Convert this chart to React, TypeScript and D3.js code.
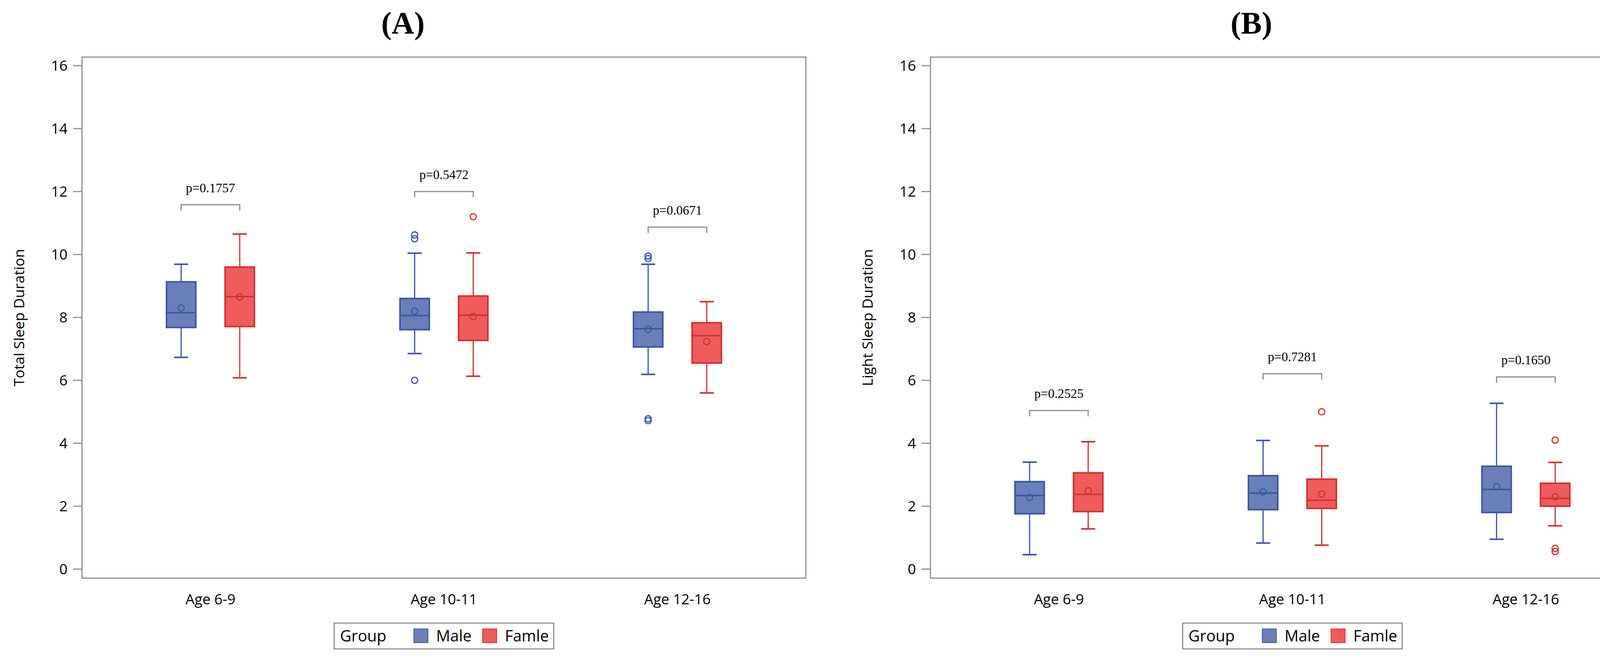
import * as d3 from "d3";
import React from "react";

// 数据
const categories = ["Age 6-9", "Age 10-11", "Age 12-16"];
const groups = ["Male", "Famle"];
const yTicks = [0, 2, 4, 6, 8, 10, 12, 14, 16];

interface BoxStat {
  min: number;
  q1: number;
  median: number;
  q3: number;
  max: number;
  mean: number;
  outliers: number[];
}

const totalMale: BoxStat[] = [
  { min: 6.73, q1: 7.68, median: 8.15, q3: 9.13, max: 9.69, mean: 8.3, outliers: [] },
  { min: 6.85, q1: 7.61, median: 8.06, q3: 8.6, max: 10.04, mean: 8.2, outliers: [10.62, 10.5, 6.0] },
  { min: 6.19, q1: 7.06, median: 7.64, q3: 8.17, max: 9.69, mean: 7.62, outliers: [9.95, 9.87, 4.78, 4.72] },
];
const totalFemale: BoxStat[] = [
  { min: 6.08, q1: 7.71, median: 8.66, q3: 9.6, max: 10.65, mean: 8.65, outliers: [] },
  { min: 6.13, q1: 7.27, median: 8.07, q3: 8.68, max: 10.05, mean: 8.03, outliers: [11.2] },
  { min: 5.6, q1: 6.55, median: 7.42, q3: 7.83, max: 8.5, mean: 7.23, outliers: [] },
];
const totalP = ["p=0.1757", "p=0.5472", "p=0.0671"];
const totalPLevel = [11.58, 12.0, 10.87];

const lightMale: BoxStat[] = [
  { min: 0.46, q1: 1.76, median: 2.34, q3: 2.78, max: 3.4, mean: 2.28, outliers: [] },
  { min: 0.83, q1: 1.89, median: 2.42, q3: 2.97, max: 4.09, mean: 2.46, outliers: [] },
  { min: 0.95, q1: 1.8, median: 2.53, q3: 3.27, max: 5.27, mean: 2.62, outliers: [] },
];
const lightFemale: BoxStat[] = [
  { min: 1.28, q1: 1.83, median: 2.38, q3: 3.06, max: 4.05, mean: 2.49, outliers: [] },
  { min: 0.76, q1: 1.93, median: 2.19, q3: 2.86, max: 3.92, mean: 2.39, outliers: [5.0] },
  { min: 1.38, q1: 2.0, median: 2.25, q3: 2.73, max: 3.39, mean: 2.3, outliers: [4.1, 0.66, 0.56] },
];
const lightP = ["p=0.2525", "p=0.7281", "p=0.1650"];
const lightPLevel = [5.04, 6.21, 6.11];

const COLORS = {
  fill: ["#6a7fb9", "#ef5c5c"],
  stroke: ["#3b55a0", "#d0302f"],
};
const FRAME = "#8e8e8e";
const SANS = "'Open Sans', sans-serif";
const SERIF = "'Liberation Serif', 'Times New Roman', serif";

interface PanelProps {
  title: string;
  yLabel: string;
  left: number;
  male: BoxStat[];
  female: BoxStat[];
  pLabels: string[];
  pLevels: number[];
}

const PLOT_W = 1853;
const TOP = 146;
const BOTTOM = 1479;

function Panel({ title, yLabel, left, male, female, pLabels, pLevels }: PanelProps) {
  const right = left + PLOT_W;
  const x = d3.scalePoint<string>().domain(categories).range([left, right]).padding(0.55);
  const y = d3.scaleLinear().domain([0, 16]).range([1456, 168]);
  const offset = 75;
  const boxW = 75;
  const capW = 36;
  const series = [male, female];
  const cx = (left + right) / 2;
  // 标题居中于整个子图（含y轴标签）
  const titleX = (left - 210 + right) / 2;

  // 图例
  const legW = 562;
  const legX = cx - legW / 2;
  const legY = 1594;

  return (
    <g>
      <text x={titleX} y={86} textAnchor="middle" fontFamily={SERIF} fontWeight="bold" fontSize={80}>
        ({title})
      </text>
      <rect x={left} y={TOP} width={PLOT_W} height={BOTTOM - TOP} fill="none" stroke={FRAME} strokeWidth={3} />
      {yTicks.map((t) => (
        <g key={t}>
          <line x1={left - 23} x2={left} y1={y(t)} y2={y(t)} stroke={FRAME} strokeWidth={3} />
          <text x={left - 37} y={y(t)} dy="0.36em" textAnchor="end" fontFamily={SANS} fontSize={37}>
            {t}
          </text>
        </g>
      ))}
      <text
        transform={`translate(${left - 161},${(TOP + BOTTOM) / 2}) rotate(-90)`}
        textAnchor="middle"
        dy="0.36em"
        fontFamily={SANS}
        fontSize={37}
      >
        {yLabel}
      </text>
      {categories.map((c) => (
        <text key={c} x={x(c)} y={1546} textAnchor="middle" fontFamily={SANS} fontSize={37}>
          {c}
        </text>
      ))}
      {categories.map((c, i) =>
        series.map((s, g) => {
          const d = s[i];
          const bx = (x(c) as number) + (g === 0 ? -offset : offset);
          return (
            <g key={`${c}-${g}`}>
              <line x1={bx} x2={bx} y1={y(d.max)} y2={y(d.q3)} stroke={COLORS.stroke[g]} strokeWidth={3} />
              <line x1={bx} x2={bx} y1={y(d.q1)} y2={y(d.min)} stroke={COLORS.stroke[g]} strokeWidth={3} />
              <line x1={bx - capW / 2} x2={bx + capW / 2} y1={y(d.max)} y2={y(d.max)} stroke={COLORS.stroke[g]} strokeWidth={4} />
              <line x1={bx - capW / 2} x2={bx + capW / 2} y1={y(d.min)} y2={y(d.min)} stroke={COLORS.stroke[g]} strokeWidth={4} />
              <rect
                x={bx - boxW / 2}
                y={y(d.q3)}
                width={boxW}
                height={y(d.q1) - y(d.q3)}
                fill={COLORS.fill[g]}
                stroke={COLORS.stroke[g]}
                strokeWidth={4}
              />
              <line x1={bx - boxW / 2} x2={bx + boxW / 2} y1={y(d.median)} y2={y(d.median)} stroke={COLORS.stroke[g]} strokeWidth={4} />
              <circle cx={bx} cy={y(d.mean)} r={8} fill="none" stroke={COLORS.stroke[g]} strokeWidth={3} />
              {d.outliers.map((o, k) => (
                <circle key={k} cx={bx} cy={y(o)} r={8} fill="none" stroke={COLORS.stroke[g]} strokeWidth={3} />
              ))}
            </g>
          );
        })
      )}
      {categories.map((c, i) => {
        const x0 = (x(c) as number) - offset;
        const x1 = (x(c) as number) + offset;
        const by = y(pLevels[i]);
        return (
          <g key={`p-${c}`}>
            <path d={`M${x0},${by + 15}V${by}H${x1}V${by + 15}`} fill="none" stroke={FRAME} strokeWidth={3} />
            <text x={(x0 + x1) / 2} y={by - 32} textAnchor="middle" fontFamily={SERIF} fontSize={33}>
              {pLabels[i]}
            </text>
          </g>
        );
      })}
      <g transform={`translate(${legX},${legY})`}>
        <rect x={0} y={0} width={legW} height={66} fill="white" stroke={FRAME} strokeWidth={3} />
        <text x={15} y={33} dy="0.36em" fontFamily={SANS} fontSize={40}>
          Group
        </text>
        {groups.map((gname, g) => (
          <g key={gname} transform={`translate(${g === 0 ? 204 : 380},0)`}>
            <rect x={0} y={15} width={36} height={35} fill={COLORS.fill[g]} stroke={COLORS.stroke[g]} strokeWidth={2} />
            <text x={57} y={33} dy="0.36em" fontFamily={SANS} fontSize={40}>
              {gname}
            </text>
          </g>
        ))}
      </g>
    </g>
  );
}

export default function App() {
  return (
    <svg
      width={4266}
      height={1691}
      style={{ position: "absolute", left: 0, top: 0, background: "white" }}
    >
      <rect width={4266} height={1691} fill="white" />
      <Panel
        title="A"
        yLabel="Total Sleep Duration"
        left={210}
        male={totalMale}
        female={totalFemale}
        pLabels={totalP}
        pLevels={totalPLevel}
      />
      <Panel
        title="B"
        yLabel="Light Sleep Duration"
        left={2382}
        male={lightMale}
        female={lightFemale}
        pLabels={lightP}
        pLevels={lightPLevel}
      />
    </svg>
  );
}
